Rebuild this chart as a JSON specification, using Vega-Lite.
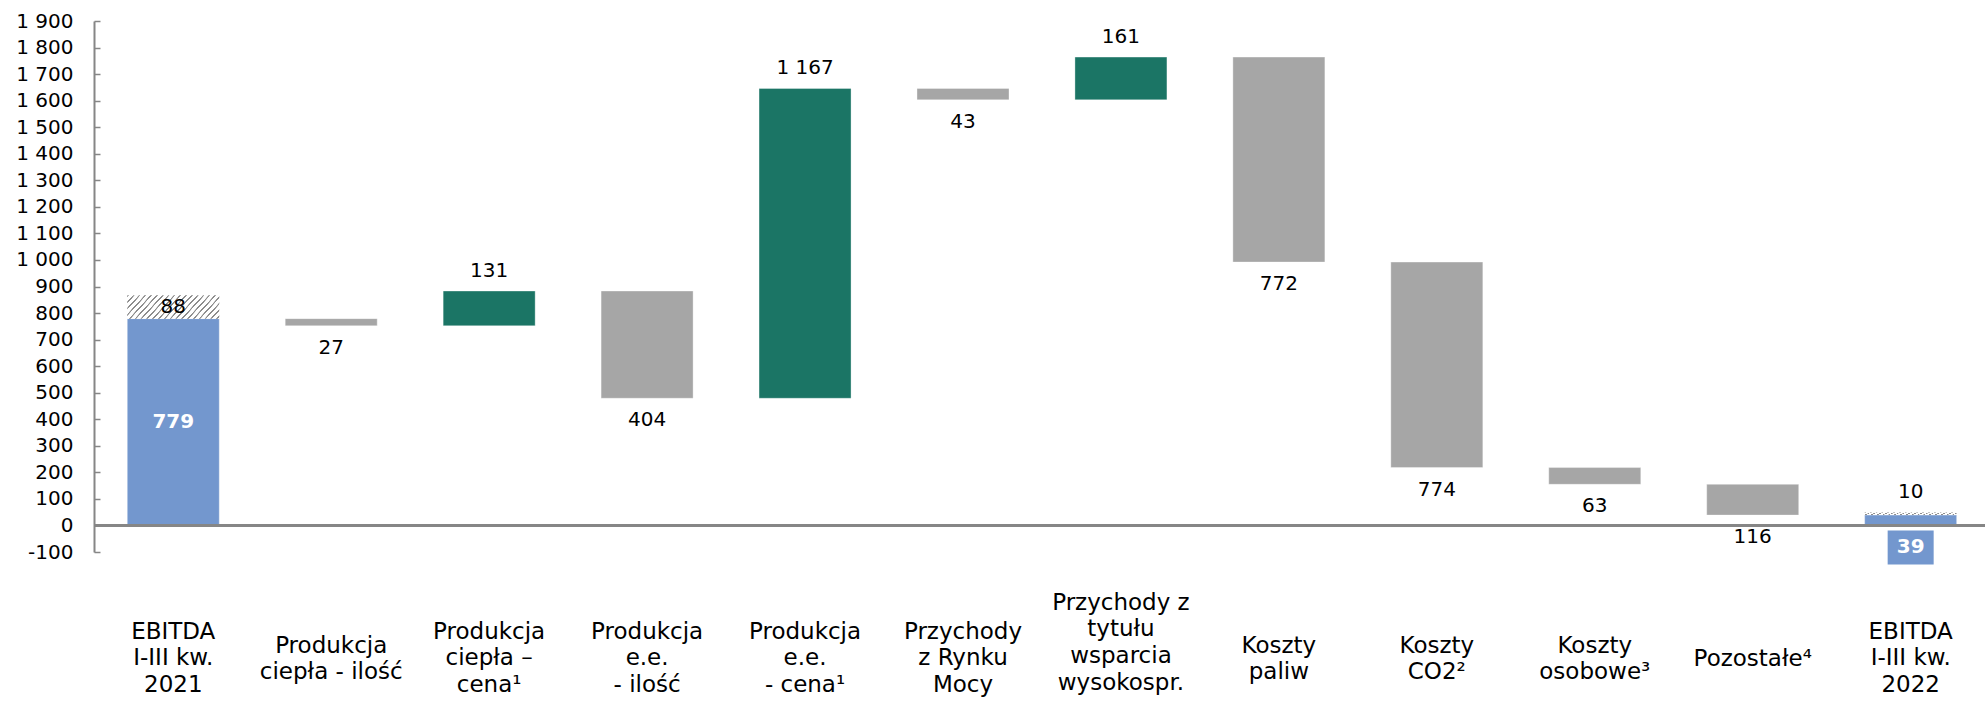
{
  "$schema": "https://vega.github.io/schema/vega-lite/v6.json",
  "width": 1891,
  "height": 531,
  "autosize": {"type": "none"},
  "padding": {"left": 94, "top": 21, "right": 0, "bottom": 149},
  "config": {
    "view": {"stroke": null},
    "font": "DejaVu Sans"
  },
  "data": {"values": [
    {"cat": "EBITDA|I-III kw.|2021", "start": 0, "end": 779, "type": "total", "label": "779", "pos": "inside"},
    {"cat": "EBITDA|I-III kw.|2021", "start": 779, "end": 867, "type": "hatch", "label": "88", "pos": "hatchmid"},
    {"cat": "Produkcja|ciepła - ilość", "start": 779, "end": 752, "type": "down", "label": "27", "pos": "below"},
    {"cat": "Produkcja|ciepła –|cena¹", "start": 752, "end": 883, "type": "up", "label": "131", "pos": "above"},
    {"cat": "Produkcja|e.e.|- ilość", "start": 883, "end": 479, "type": "down", "label": "404", "pos": "below"},
    {"cat": "Produkcja|e.e.|- cena¹", "start": 479, "end": 1646, "type": "up", "label": "1 167", "pos": "above"},
    {"cat": "Przychody|z Rynku|Mocy", "start": 1646, "end": 1603, "type": "down", "label": "43", "pos": "below"},
    {"cat": "Przychody z|tytułu|wsparcia|wysokospr.", "start": 1603, "end": 1764, "type": "up", "label": "161", "pos": "above"},
    {"cat": "Koszty|paliw", "start": 1764, "end": 992, "type": "down", "label": "772", "pos": "below"},
    {"cat": "Koszty|CO2²", "start": 992, "end": 218, "type": "down", "label": "774", "pos": "below"},
    {"cat": "Koszty|osobowe³", "start": 218, "end": 155, "type": "down", "label": "63", "pos": "below"},
    {"cat": "Pozostałe⁴", "start": 155, "end": 39, "type": "down", "label": "116", "pos": "below"},
    {"cat": "EBITDA|I-III kw.|2022", "start": 0, "end": 39, "type": "total", "label": "39", "pos": "box"},
    {"cat": "EBITDA|I-III kw.|2022", "start": 39, "end": 49, "type": "hatch", "label": "10", "pos": "above"}
  ]},
  "layer": [
    {
      "transform": [{"filter": "datum.type !== 'hatch'"}],
      "mark": {"type": "bar", "stroke": "#ffffff", "strokeOpacity": 0.35, "strokeWidth": 1},
      "encoding": {
        "x": {
          "field": "cat", "type": "nominal", "sort": null, "title": null,
          "scale": {
            "domain": ["EBITDA|I-III kw.|2021", "Produkcja|ciepła - ilość", "Produkcja|ciepła –|cena¹", "Produkcja|e.e.|- ilość", "Produkcja|e.e.|- cena¹", "Przychody|z Rynku|Mocy", "Przychody z|tytułu|wsparcia|wysokospr.", "Koszty|paliw", "Koszty|CO2²", "Koszty|osobowe³", "Pozostałe⁴", "EBITDA|I-III kw.|2022"],
            "paddingInner": 0.4175, "paddingOuter": 0.195, "align": 0.54
          },
          "axis": {
            "orient": "bottom", "domain": false, "ticks": false, "labelAngle": 0,
            "labelExpr": "split(datum.label, '|')",
            "labelFont": "DejaVu Sans", "labelFontSize": 23, "labelColor": "#000000",
            "labelLineHeight": 26.7, "labelBaseline": "middle",
            "labelPadding": {
              "condition": [
                {"test": "length(split(datum.value, '|')) === 4", "value": 50},
                {"test": "length(split(datum.value, '|')) === 3", "value": 79},
                {"test": "length(split(datum.value, '|')) === 2", "value": 93}
              ],
              "value": 106
            },
            "labelLimit": 400, "labelOverlap": false, "labelBound": false
          }
        },
        "y": {
          "field": "start", "type": "quantitative", "title": null,
          "scale": {"domain": [-100, 1900], "nice": false, "zero": false},
          "axis": {
            "tickCount": 20,
            "labelExpr": "datum.value >= 1000 ? floor(datum.value / 1000) + ' ' + format(datum.value % 1000, '03') : '' + datum.value",
            "grid": false, "domainColor": "#868686", "domainWidth": 2,
            "tickColor": "#868686", "tickWidth": 1.5, "tickSize": -6,
            "labelFont": "DejaVu Sans", "labelFontSize": 20, "labelColor": "#000000",
            "labelPadding": 27, "labelBaseline": "middle", "labelOverlap": false, "labelSeparation": 0, "labelBound": false, "labelFlush": false
          }
        },
        "y2": {"field": "end"},
        "color": {
          "field": "type", "type": "nominal", "legend": null,
          "scale": {"domain": ["total", "up", "down"], "range": ["#7397CE", "#1B7565", "#A6A6A6"]}
        }
      }
    },
    {
      "transform": [{"filter": "datum.type === 'hatch'"}],
      "mark": {
        "type": "bar",
        "fill": {
          "gradient": "linear", "x1": 0, "y1": 0, "x2": 1.2, "y2": 0.281,
          "stops": [
            {"offset": 0, "color": "#8c8c8c"}, {"offset": 0.012, "color": "#8c8c8c"}, {"offset": 0.015, "color": "#ffffff"}, {"offset": 0.047, "color": "#ffffff"},
            {"offset": 0.05, "color": "#8c8c8c"}, {"offset": 0.062, "color": "#8c8c8c"}, {"offset": 0.065, "color": "#ffffff"}, {"offset": 0.097, "color": "#ffffff"},
            {"offset": 0.1, "color": "#8c8c8c"}, {"offset": 0.112, "color": "#8c8c8c"}, {"offset": 0.115, "color": "#ffffff"}, {"offset": 0.147, "color": "#ffffff"},
            {"offset": 0.15, "color": "#8c8c8c"}, {"offset": 0.162, "color": "#8c8c8c"}, {"offset": 0.165, "color": "#ffffff"}, {"offset": 0.197, "color": "#ffffff"},
            {"offset": 0.2, "color": "#8c8c8c"}, {"offset": 0.212, "color": "#8c8c8c"}, {"offset": 0.215, "color": "#ffffff"}, {"offset": 0.247, "color": "#ffffff"},
            {"offset": 0.25, "color": "#8c8c8c"}, {"offset": 0.262, "color": "#8c8c8c"}, {"offset": 0.265, "color": "#ffffff"}, {"offset": 0.297, "color": "#ffffff"},
            {"offset": 0.3, "color": "#8c8c8c"}, {"offset": 0.312, "color": "#8c8c8c"}, {"offset": 0.315, "color": "#ffffff"}, {"offset": 0.347, "color": "#ffffff"},
            {"offset": 0.35, "color": "#8c8c8c"}, {"offset": 0.362, "color": "#8c8c8c"}, {"offset": 0.365, "color": "#ffffff"}, {"offset": 0.397, "color": "#ffffff"},
            {"offset": 0.4, "color": "#8c8c8c"}, {"offset": 0.412, "color": "#8c8c8c"}, {"offset": 0.415, "color": "#ffffff"}, {"offset": 0.447, "color": "#ffffff"},
            {"offset": 0.45, "color": "#8c8c8c"}, {"offset": 0.462, "color": "#8c8c8c"}, {"offset": 0.465, "color": "#ffffff"}, {"offset": 0.497, "color": "#ffffff"},
            {"offset": 0.5, "color": "#8c8c8c"}, {"offset": 0.512, "color": "#8c8c8c"}, {"offset": 0.515, "color": "#ffffff"}, {"offset": 0.547, "color": "#ffffff"},
            {"offset": 0.55, "color": "#8c8c8c"}, {"offset": 0.562, "color": "#8c8c8c"}, {"offset": 0.565, "color": "#ffffff"}, {"offset": 0.597, "color": "#ffffff"},
            {"offset": 0.6, "color": "#8c8c8c"}, {"offset": 0.612, "color": "#8c8c8c"}, {"offset": 0.615, "color": "#ffffff"}, {"offset": 0.647, "color": "#ffffff"},
            {"offset": 0.65, "color": "#8c8c8c"}, {"offset": 0.662, "color": "#8c8c8c"}, {"offset": 0.665, "color": "#ffffff"}, {"offset": 0.697, "color": "#ffffff"},
            {"offset": 0.7, "color": "#8c8c8c"}, {"offset": 0.712, "color": "#8c8c8c"}, {"offset": 0.715, "color": "#ffffff"}, {"offset": 0.747, "color": "#ffffff"},
            {"offset": 0.75, "color": "#8c8c8c"}, {"offset": 0.762, "color": "#8c8c8c"}, {"offset": 0.765, "color": "#ffffff"}, {"offset": 0.797, "color": "#ffffff"},
            {"offset": 0.8, "color": "#8c8c8c"}, {"offset": 0.812, "color": "#8c8c8c"}, {"offset": 0.815, "color": "#ffffff"}, {"offset": 0.847, "color": "#ffffff"},
            {"offset": 0.85, "color": "#8c8c8c"}, {"offset": 0.862, "color": "#8c8c8c"}, {"offset": 0.865, "color": "#ffffff"}, {"offset": 0.897, "color": "#ffffff"},
            {"offset": 0.9, "color": "#8c8c8c"}, {"offset": 0.912, "color": "#8c8c8c"}, {"offset": 0.915, "color": "#ffffff"}, {"offset": 0.947, "color": "#ffffff"},
            {"offset": 0.95, "color": "#8c8c8c"}, {"offset": 0.962, "color": "#8c8c8c"}, {"offset": 0.965, "color": "#ffffff"}, {"offset": 1, "color": "#ffffff"}
          ]
        }
      },
      "encoding": {
        "x": {"field": "cat", "type": "nominal", "sort": null, "title": null},
        "y": {"field": "start", "type": "quantitative", "title": null},
        "y2": {"field": "end"}
      }
    },
    {
      "transform": [{"filter": "datum.pos === 'box'"}],
      "mark": {"type": "bar", "color": "#7397CE", "width": 46, "yOffset": 5, "y2Offset": 39},
      "encoding": {
        "x": {"field": "cat", "type": "nominal", "sort": null, "title": null},
        "y": {"field": "start", "type": "quantitative", "title": null},
        "y2": {"field": "start"}
      }
    },
    {
      "mark": {"type": "rule", "color": "#868686", "strokeWidth": 2},
      "encoding": {"y": {"datum": 0, "type": "quantitative"}}
    },
    {
      "transform": [{"filter": "datum.pos === 'above'"}],
      "mark": {"type": "text", "baseline": "middle", "dy": -20, "fontSize": 20, "font": "DejaVu Sans", "color": "#000000"},
      "encoding": {
        "x": {"field": "cat", "type": "nominal", "sort": null, "title": null},
        "y": {"field": "end", "type": "quantitative", "title": null},
        "text": {"field": "label"}
      }
    },
    {
      "transform": [{"filter": "datum.pos === 'below'"}],
      "mark": {"type": "text", "baseline": "middle", "dy": 22, "fontSize": 20, "font": "DejaVu Sans", "color": "#000000"},
      "encoding": {
        "x": {"field": "cat", "type": "nominal", "sort": null, "title": null},
        "y": {"field": "end", "type": "quantitative", "title": null},
        "text": {"field": "label"}
      }
    },
    {
      "transform": [
        {"filter": "datum.pos === 'inside'"},
        {"fold": ["start", "end"], "as": ["k", "v"]},
        {"aggregate": [{"op": "mean", "field": "v", "as": "mid"}], "groupby": ["cat", "label"]}
      ],
      "mark": {"type": "text", "baseline": "middle", "fontSize": 20, "fontWeight": "bold", "font": "DejaVu Sans", "color": "#ffffff"},
      "encoding": {
        "x": {"field": "cat", "type": "nominal", "sort": null, "title": null},
        "y": {"field": "mid", "type": "quantitative", "title": null},
        "text": {"field": "label"}
      }
    },
    {
      "transform": [
        {"filter": "datum.pos === 'hatchmid'"},
        {"fold": ["start", "end"], "as": ["k", "v"]},
        {"aggregate": [{"op": "mean", "field": "v", "as": "mid"}], "groupby": ["cat", "label"]}
      ],
      "mark": {"type": "text", "baseline": "middle", "fontSize": 20, "font": "DejaVu Sans", "color": "#000000"},
      "encoding": {
        "x": {"field": "cat", "type": "nominal", "sort": null, "title": null},
        "y": {"field": "mid", "type": "quantitative", "title": null},
        "text": {"field": "label"}
      }
    },
    {
      "transform": [{"filter": "datum.pos === 'box'"}],
      "mark": {"type": "text", "baseline": "middle", "dy": 22, "fontSize": 20, "fontWeight": "bold", "font": "DejaVu Sans", "color": "#ffffff"},
      "encoding": {
        "x": {"field": "cat", "type": "nominal", "sort": null, "title": null},
        "y": {"field": "start", "type": "quantitative", "title": null},
        "text": {"field": "label"}
      }
    }
  ]
}
